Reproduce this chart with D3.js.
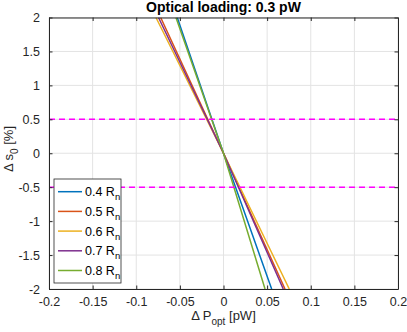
<!DOCTYPE html>
<html>
<head>
<meta charset="utf-8">
<script src="https://cdn.jsdelivr.net/npm/d3@7"></script>
<style>
  body { margin: 0; background: #fff; }
  text { font-family: "Liberation Sans", Arial, sans-serif; }
</style>
</head>
<body>
<svg width="407" height="332"></svg>
<script>
// series: dP_opt at ds0 = 2, 0, -2
var ds0 = [2, 0, -2];
var names = ["0.4", "0.5", "0.6", "0.7", "0.8"];
var dP04 = [-0.053, 0, 0.0552];
var dP05 = [-0.072, 0, 0.0705];
var dP06 = [-0.0774, 0, 0.0754];
var dP07 = [-0.0745, 0, 0.0685];
var dP08 = [-0.0545, 0, 0.0476];
var xTicks = [-0.2, -0.15, -0.1, -0.05, 0, 0.05, 0.1, 0.15, 0.2];
var yTicks = [-2, -1.5, -1, -0.5, 0, 0.5, 1, 1.5, 2];
var thresholds = [0.5, -0.5];

var colors = ["#0072BD", "#D95319", "#EDB120", "#7E2F8E", "#77AC30"];
var series = [dP04, dP05, dP06, dP07, dP08];

var svg = d3.select("svg"),
    margin = {left: 49, right: 9, top: 17.5, bottom: 43},
    width = +svg.attr("width"),
    height = +svg.attr("height");

var x = d3.scaleLinear().domain([-0.2, 0.2]).range([margin.left, width - margin.right]);
var y = d3.scaleLinear().domain([-2, 2]).range([height - margin.bottom, margin.top]);

var axisColor = "#262626";

// grid
var grid = svg.append("g");
grid.selectAll(".gx").data(xTicks).enter().append("line")
    .attr("x1", function(d) { return x(d); }).attr("x2", function(d) { return x(d); })
    .attr("y1", y(-2)).attr("y2", y(2))
    .attr("stroke", "#e3e3e3").attr("stroke-width", 1);
grid.selectAll(".gy").data(yTicks).enter().append("line")
    .attr("y1", function(d) { return y(d); }).attr("y2", function(d) { return y(d); })
    .attr("x1", x(-0.2)).attr("x2", x(0.2))
    .attr("stroke", "#e3e3e3").attr("stroke-width", 1);

svg.append("clipPath").attr("id", "clip").append("rect")
    .attr("x", x(-0.2)).attr("y", y(2))
    .attr("width", x(0.2) - x(-0.2)).attr("height", y(-2) - y(2));

var plot = svg.append("g").attr("clip-path", "url(#clip)");

var line = d3.line()
    .x(function(d) { return x(d[0]); })
    .y(function(d) { return y(d[1]); });

series.forEach(function(s, i) {
  plot.append("path")
      .attr("d", line(s.map(function(v, j) { return [v, ds0[j]]; })))
      .attr("fill", "none")
      .attr("stroke", colors[i])
      .attr("stroke-width", 1.5);
});

plot.selectAll(".thr").data(thresholds).enter().append("line")
    .attr("x1", x(-0.2)).attr("x2", x(0.2))
    .attr("y1", function(d) { return y(d); }).attr("y2", function(d) { return y(d); })
    .attr("stroke", "#FF00FF").attr("stroke-width", 1.5)
    .attr("stroke-dasharray", "6,4");

// axes
var xAxis = svg.append("g").attr("transform", "translate(0," + y(-2) + ")")
    .call(d3.axisBottom(x).tickValues(xTicks).tickSizeInner(-3.5).tickSizeOuter(0)
      .tickPadding(8).tickFormat(function(d) { return String(+d.toFixed(2)); }));
var xTop = svg.append("g").attr("transform", "translate(0," + y(2) + ")")
    .call(d3.axisTop(x).tickValues(xTicks).tickSizeInner(-3.5).tickSizeOuter(0).tickFormat(""));
var yAxis = svg.append("g").attr("transform", "translate(" + x(-0.2) + ",0)")
    .call(d3.axisLeft(y).tickValues(yTicks).tickSizeInner(-3.5).tickSizeOuter(0)
      .tickPadding(9).tickFormat(function(d) { return String(d); }));
var yRight = svg.append("g").attr("transform", "translate(" + x(0.2) + ",0)")
    .call(d3.axisRight(y).tickValues(yTicks).tickSizeInner(-3.5).tickSizeOuter(0).tickFormat(""));

[xAxis, xTop, yAxis, yRight].forEach(function(a) {
  a.select(".domain").attr("stroke", axisColor).attr("stroke-width", 1);
  a.selectAll(".tick line").attr("stroke", axisColor);
  a.selectAll("text").attr("fill", axisColor).style("font-size", "12.5px")
    .style("font-family", "'Liberation Sans', Arial, sans-serif");
});

// title
svg.append("text")
    .attr("x", (x(-0.2) + x(0.2)) / 2).attr("y", 11.5)
    .attr("text-anchor", "middle")
    .style("font-size", "14px").style("font-weight", "bold")
    .attr("fill", "#000")
    .text("Optical loading: 0.3 pW");

// x label
var xl = svg.append("text")
    .attr("x", (x(-0.2) + x(0.2)) / 2).attr("y", 320)
    .attr("text-anchor", "middle")
    .style("font-size", "13px").attr("fill", axisColor);
xl.append("tspan").text("\u0394 P");
xl.append("tspan").attr("dy", 5).style("font-size", "10px").text("opt");
xl.append("tspan").attr("dy", -5).text(" [pW]");

// y label
var yl = svg.append("text")
    .attr("transform", "translate(12.5,149) rotate(-90)")
    .attr("text-anchor", "middle")
    .style("font-size", "13px").attr("fill", axisColor);
yl.append("tspan").text("\u0394 s");
yl.append("tspan").attr("dy", 5).style("font-size", "10px").text("0");
yl.append("tspan").attr("dy", -5).text(" [%]");

// legend
var lg = svg.append("g").attr("transform", "translate(54,179)");
lg.append("rect").attr("width", 67).attr("height", 104)
    .attr("fill", "#fff").attr("stroke", axisColor).attr("stroke-width", 0.8);
names.forEach(function(n, i) {
  var yy = 12.7 + i * 19.7;
  lg.append("line").attr("x1", 4).attr("x2", 28)
      .attr("y1", yy).attr("y2", yy)
      .attr("stroke", colors[i]).attr("stroke-width", 1.5);
  var t = lg.append("text").attr("x", 31).attr("y", yy + 4.5)
      .style("font-size", "12.5px").attr("fill", "#000");
  t.append("tspan").text(n + " R");
  t.append("tspan").attr("dy", 4).style("font-size", "9.5px").text("n");
});
</script>
</body>
</html>
